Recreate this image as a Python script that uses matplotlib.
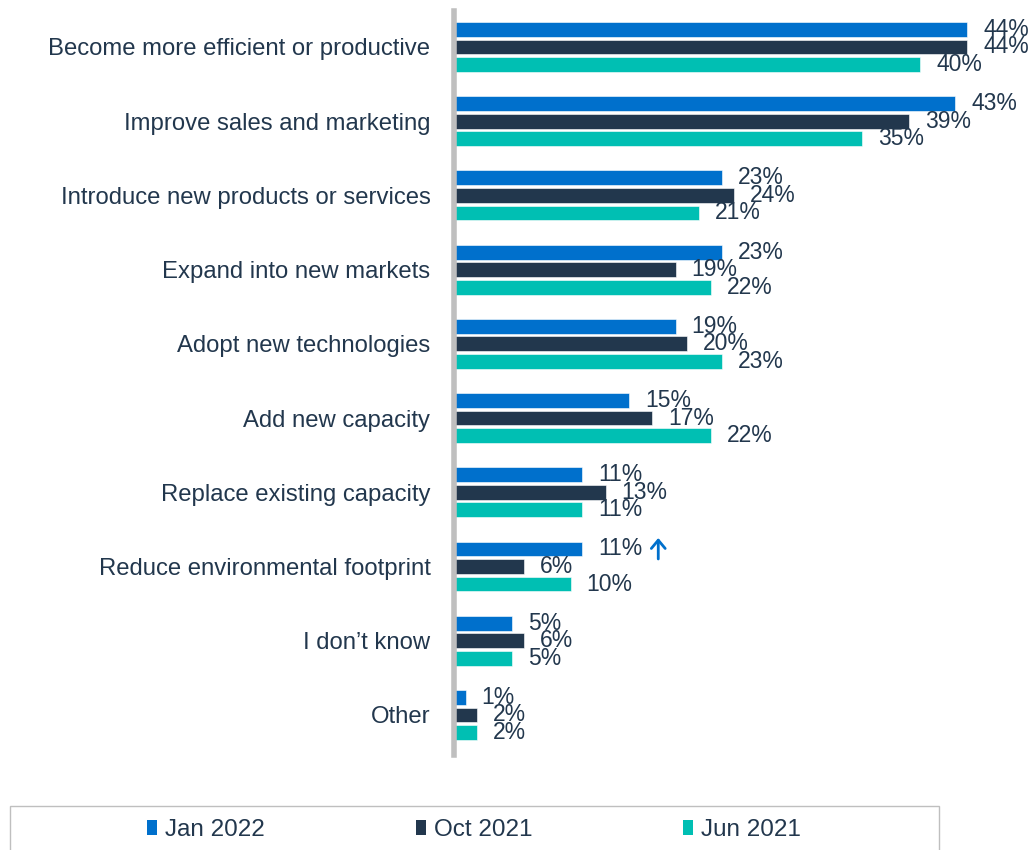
import matplotlib
matplotlib.use("Agg")
import matplotlib.pyplot as plt
from matplotlib.patches import Patch, Rectangle
from matplotlib.transforms import offset_copy
import numpy as np

categories = [
    "Become more efficient or productive",
    "Improve sales and marketing",
    "Introduce new products or services",
    "Expand into new markets",
    "Adopt new technologies",
    "Add new capacity",
    "Replace existing capacity",
    "Reduce environmental footprint",
    "I don\u2019t know",
    "Other",
]
series = ["Jan 2022", "Oct 2021", "Jun 2021"]
jan_2022 = [44, 43, 23, 23, 19, 15, 11, 11, 5, 1]
oct_2021 = [44, 39, 24, 19, 20, 17, 13, 6, 6, 2]
jun_2021 = [40, 35, 21, 22, 23, 22, 11, 10, 5, 2]
colors = ["#0070CC", "#22374D", "#00BFB3"]
text_color = "#22374D"

plt.rcParams["font.family"] = ["Liberation Sans", "DejaVu Sans"]

W, H = 1035, 850
fig = plt.figure(figsize=(W / 100, H / 100), dpi=100)

# axes geometry in pixels
x0_px, px_per_pct = 454, 11.66
xmax = 50
top_px, bot_px = 11, 755
ax = fig.add_axes([x0_px / W, 1 - bot_px / H, xmax * px_per_pct / W, (bot_px - top_px) / H])

y = np.arange(len(categories))
offset = 0.236
height = 0.2
values = [jan_2022, oct_2021, jun_2021]
for k, (vals, col) in enumerate(zip(values, colors)):
    yy = y + (k - 1) * offset
    ax.barh(yy, vals, height=height, color=col, edgecolor="white", linewidth=0.4)
    for yi, v in zip(yy, vals):
        ax.annotate(f"{v}%", xy=(v, yi), xytext=(16, 0), textcoords="offset pixels",
                    ha="left", va="center", fontsize=16.5, color=text_color,
                    annotation_clip=False)

# upward arrow flagging the environmental footprint increase
env = categories.index("Reduce environmental footprint")
env_x, env_y = jan_2022[env], env - offset
tr_top = offset_copy(ax.transData, fig=fig, x=76, y=11, units="dots")
tr_bot = offset_copy(ax.transData, fig=fig, x=76, y=-10, units="dots")
ax.annotate("", xy=(env_x, env_y), xycoords=tr_top,
            xytext=(env_x, env_y), textcoords=tr_bot, annotation_clip=False,
            arrowprops=dict(arrowstyle="->,head_length=0.6,head_width=0.5",
                            color=colors[0], lw=2, shrinkA=0, shrinkB=0))

ax.set_xlim(0, xmax)
ax.set_ylim(9.54, -0.485)
ax.set_yticks(y)
ax.set_yticklabels(categories, fontsize=17.2, color=text_color)
ax.tick_params(axis="y", length=0, pad=17)
ax.set_xticks([])
for s in ["top", "right", "bottom"]:
    ax.spines[s].set_visible(False)
ax.spines["left"].set_color("#BFBFBF")
ax.spines["left"].set_linewidth(4)
ax.set_facecolor("none")

# legend frame running off the bottom edge
fig.patches.append(Rectangle((10 / W, -0.05), 929 / W, 0.05 + (H - 806) / H,
                             transform=fig.transFigure, fill=False,
                             edgecolor="#BFBFBF", linewidth=1))
handles = [Patch(facecolor=c, edgecolor="none") for c in colors]
fig.legend(handles, series, loc="center left", bbox_to_anchor=(125 / W, 1 - 830 / H),
           ncol=3, frameon=False, fontsize=17.5, handlelength=0.42, handleheight=0.55,
           handletextpad=0.33, columnspacing=6.2, labelcolor=text_color)

fig.savefig("out.png", dpi=100)
